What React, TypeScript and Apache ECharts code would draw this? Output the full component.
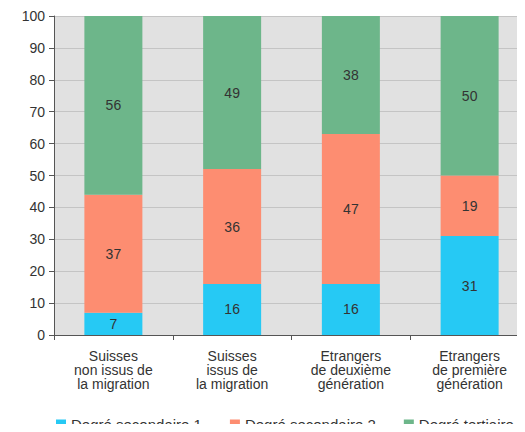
import React, { useEffect, useRef } from "react";
import * as echarts from "echarts";

const categories = [
  "Suisses\nnon issus de\nla migration",
  "Suisses\nissus de\nla migration",
  "Etrangers\nde deuxième\ngénération",
  "Etrangers\nde première\ngénération",
];
const seriesNames = ["Degré secondaire 1", "Degré secondaire 2", "Degré tertiaire"];
const secondaire1 = [7, 16, 16, 31];
const secondaire2 = [37, 36, 47, 19];
const tertiaire = [56, 49, 38, 50];
const colors = ["#26c9f4", "#fd8d71", "#6db68a"];

const FONT = '"Liberation Sans", Arial, sans-serif';

export default function App() {
  const ref = useRef<HTMLDivElement>(null);
  useEffect(() => {
    if (!ref.current) return;
    const chart = echarts.init(ref.current, null, { renderer: "svg" });
    const values = [secondaire1, secondaire2, tertiaire];
    chart.setOption({
      animation: false,
      textStyle: { fontFamily: FONT },
      grid: {
        left: 54,
        top: 16,
        bottom: 97,
        right: 0,
        show: true,
        backgroundColor: "#e1e1e1",
        borderWidth: 0,
        containLabel: false,
      },
      legend: {
        left: 51,
        top: 412,
        itemWidth: 10,
        itemHeight: 10,
        itemGap: 28,
        icon: "rect",
        textStyle: { fontSize: 15, color: "#333", fontFamily: FONT },
        data: seriesNames,
      },
      xAxis: {
        type: "category",
        data: categories,
        axisLine: { show: true, lineStyle: { color: "#555" } },
        axisTick: { show: true, length: 5, lineStyle: { color: "#555" } },
        axisLabel: {
          fontSize: 14,
          lineHeight: 14,
          color: "#333",
          margin: 14,
          interval: 0,
          fontFamily: FONT,
        },
        splitLine: { show: false },
      },
      yAxis: {
        type: "value",
        min: 0,
        max: 100,
        interval: 10,
        axisLine: { show: true, lineStyle: { color: "#555" } },
        axisTick: { show: true, length: 5, lineStyle: { color: "#555" } },
        axisLabel: { fontSize: 14, color: "#333", margin: 9, fontFamily: FONT },
        splitLine: { show: true, lineStyle: { color: "#c4c4c4", width: 1 } },
      },
      series: seriesNames.map((name, i) => ({
        name,
        type: "bar",
        stack: "total",
        barWidth: 58,
        data: values[i],
        itemStyle: { color: colors[i] },
        label: {
          show: true,
          position: "inside",
          fontSize: 14,
          color: "#333",
          fontFamily: FONT,
        },
      })),
    });
    return () => chart.dispose();
  }, []);
  return (
    <div style={{ width: 525, height: 432, margin: -8, overflow: "hidden" }}>
      <div ref={ref} style={{ width: 529, height: 432 }} />
    </div>
  );
}
